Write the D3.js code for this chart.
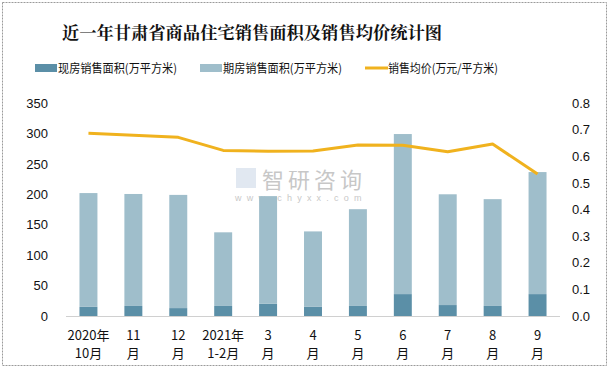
<!DOCTYPE html>
<html><head><meta charset="utf-8">
<script src="https://cdn.jsdelivr.net/npm/d3@7"></script>
<style>body{margin:0;background:#fff}svg{display:block}</style>
</head><body><svg id="c" width="610" height="369"></svg>
<script>
const categories = [["2020年","10月"],["11","月"],["12","月"],["2021年","1-2月"],["3","月"],["4","月"],["5","月"],["6","月"],["7","月"],["8","月"],["9","月"]];
const xianfang = [15, 16.5, 13, 16.5, 20, 15, 16.5, 36, 18, 16.5, 36];
const qifang = [187, 184, 186, 121, 177, 124, 159, 263, 182, 175.5, 200.5];
const price = [0.686, 0.679, 0.671, 0.622, 0.619, 0.620, 0.642, 0.641, 0.617, 0.646, 0.533];
const leftTicks = [0,50,100,150,200,250,300,350];
const rightTicks = [0,0.1,0.2,0.3,0.4,0.5,0.6,0.7,0.8];
const seriesNames = ["现房销售面积(万平方米)","期房销售面积(万平方米)","销售均价(万元/平方米)"];
const colors = {dark:"#5B8FA7", light:"#9FBECB", line:"#F0B21E"};
const font = "'Noto Sans CJK SC', 'Liberation Sans', sans-serif";

const svg = d3.select("#c");
svg.append("rect").attr("x",2.5).attr("y",2.5).attr("width",604).attr("height",363)
  .attr("fill","#fff").attr("stroke","#9a9a9a").attr("stroke-width",1).attr("stroke-dasharray","2,1");

const x = d3.scaleBand().domain(d3.range(categories.length)).range([66,560]).paddingInner(0.6).paddingOuter(0.3);
const yL = d3.scaleLinear().domain([0,350]).range([316,103]);
const yR = d3.scaleLinear().domain([0,0.8]).range([316,103]);

// title
svg.append("text").attr("x",252).attr("y",39).attr("text-anchor","middle")
  .attr("font-family","'Noto Serif CJK SC','Noto Sans CJK SC',serif").attr("font-weight","bold")
  .attr("font-size",17.3).attr("fill","#111").text("近一年甘肃省商品住宅销售面积及销售均价统计图");

// watermark
const wm = svg.append("g").attr("opacity",0.55);
wm.append("rect").attr("x",236).attr("y",168).attr("width",20).attr("height",20).attr("fill","#c9d6e6");
wm.append("text").attr("x",262).attr("y",188).attr("font-family",font).attr("font-size",22).attr("fill","#9a9a9a").attr("letter-spacing",4).text("智研咨询");
wm.append("text").attr("x",235).attr("y",201).attr("font-family","'Liberation Sans',sans-serif").attr("font-size",9).attr("fill","#9a9a9a").attr("letter-spacing",5.2).text("www.chyxx.com");

// bars
const g = svg.append("g");
g.selectAll(".d").data(xianfang).join("rect")
  .attr("x",(d,i)=>x(i)).attr("width",x.bandwidth())
  .attr("y",d=>yL(d)).attr("height",d=>yL(0)-yL(d)).attr("fill",colors.dark);
g.selectAll(".l").data(qifang).join("rect")
  .attr("x",(d,i)=>x(i)).attr("width",x.bandwidth())
  .attr("y",(d,i)=>yL(d+xianfang[i])).attr("height",(d,i)=>yL(xianfang[i])-yL(d+xianfang[i])).attr("fill",colors.light);

// axis line
svg.append("line").attr("x1",66).attr("x2",560).attr("y1",yL(0)+0.5).attr("y2",yL(0)+0.5).attr("stroke","#d0d0d0");

// line
const line = d3.line().x((d,i)=>x(i)+x.bandwidth()/2).y(d=>yR(d));
svg.append("path").datum(price).attr("d",line).attr("fill","none").attr("stroke",colors.line).attr("stroke-width",3).attr("stroke-linejoin","round");

// left axis
const la = svg.append("g").attr("transform","translate(48,0)")
  .call(d3.axisLeft(yL).tickValues(leftTicks).tickSize(0).tickPadding(0));
la.select(".domain").remove();
la.selectAll("text").attr("font-family","'Liberation Sans',sans-serif").attr("font-size",13).attr("fill","#111");

const ra = svg.append("g").attr("transform","translate(572,0)")
  .call(d3.axisRight(yR).tickValues(rightTicks).tickFormat(d3.format(".1f")).tickSize(0).tickPadding(0));
ra.select(".domain").remove();
ra.selectAll("text").attr("font-family","'Liberation Sans',sans-serif").attr("font-size",13).attr("fill","#111");

// x labels
const xl = svg.append("g");
categories.forEach((c,i)=>{
  const cx = x(i)+x.bandwidth()/2;
  c.forEach((t,j)=>{
    xl.append("text").attr("x",cx).attr("y",340+j*18).attr("text-anchor","middle")
      .attr("font-family",font).attr("font-size",13).attr("fill","#111").text(t);
  });
});

// legend
const lg = svg.append("g").attr("font-family",font).attr("font-size",12).attr("fill","#111");
const lx = [35,200,365];
lg.append("rect").attr("x",lx[0]).attr("y",64).attr("width",22).attr("height",8).attr("fill",colors.dark);
lg.append("rect").attr("x",lx[1]).attr("y",64).attr("width",22).attr("height",8).attr("fill",colors.light);
lg.append("line").attr("x1",lx[2]).attr("x2",lx[2]+23).attr("y1",68).attr("y2",68).attr("stroke",colors.line).attr("stroke-width",3);
seriesNames.forEach((n,i)=>{
  lg.append("text").attr("x",lx[i]+23).attr("y",72.5).attr("textLength",i<2?119:110).attr("lengthAdjust","spacingAndGlyphs").text(n);
});
</script></body></html>
